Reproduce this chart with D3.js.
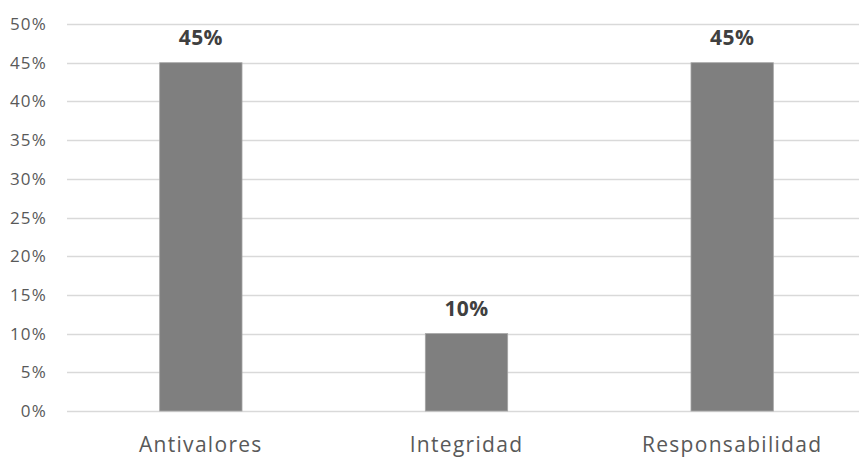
<!DOCTYPE html>
<html><head><meta charset="utf-8">
<script src="https://cdn.jsdelivr.net/npm/d3@7"></script>
<style>body{margin:0;background:#fff}svg{display:block}</style>
</head><body>
<script>
const categories = ["Antivalores", "Integridad", "Responsabilidad"];
const values = [0.45, 0.10, 0.45];
const tickValues = [0, 0.05, 0.10, 0.15, 0.20, 0.25, 0.30, 0.35, 0.40, 0.45, 0.50];

const W = 859, H = 457;
const svg = d3.select("body").append("svg").attr("width", W).attr("height", H);
const font = "'Open Sans', sans-serif";

const y = d3.scaleLinear().domain([0, 0.5]).range([411, 24]);
const x = d3.scaleBand().domain(categories).range([68, 865]).paddingInner(0.69).paddingOuter(0.345);

// gridlines
svg.append("g").selectAll("line").data(tickValues).join("line")
  .attr("x1", 67).attr("x2", W)
  .attr("y1", d => Math.round(y(d)) + 0.5).attr("y2", d => Math.round(y(d)) + 0.5)
  .attr("stroke", "#d9d9d9").attr("stroke-width", 1.3);

// y axis labels
const fmt = d3.format(".0%");
svg.append("g").selectAll("text").data(tickValues).join("text")
  .attr("x", 47).attr("y", d => y(d) + 6)
  .attr("text-anchor", "end")
  .attr("font-family", font).attr("font-size", 17).attr("fill", "#595959")
  .attr("letter-spacing", 1.2)
  .text(d => fmt(d));

// bars
svg.append("g").selectAll("rect").data(values).join("rect")
  .attr("x", (d, i) => x(categories[i]))
  .attr("y", d => y(d))
  .attr("width", x.bandwidth())
  .attr("height", d => y(0) - y(d))
  .attr("fill", "#7f7f7f").attr("stroke", "#a6a6a6").attr("stroke-width", 0.8);

// data labels
svg.append("g").selectAll("text").data(values).join("text")
  .attr("x", (d, i) => x(categories[i]) + x.bandwidth() / 2)
  .attr("y", d => y(d) - 18)
  .attr("text-anchor", "middle")
  .attr("font-family", font).attr("font-size", 21).attr("font-weight", "bold").attr("fill", "#404040")
  .attr("letter-spacing", 0.4)
  .text(d => fmt(d));

// category labels
svg.append("g").selectAll("text").data(categories).join("text")
  .attr("x", d => x(d) + x.bandwidth() / 2)
  .attr("y", 452)
  .attr("text-anchor", "middle")
  .attr("font-family", font).attr("font-size", 21).attr("fill", "#595959")
  .attr("letter-spacing", 1.3)
  .text(d => d);
</script>
</body></html>
